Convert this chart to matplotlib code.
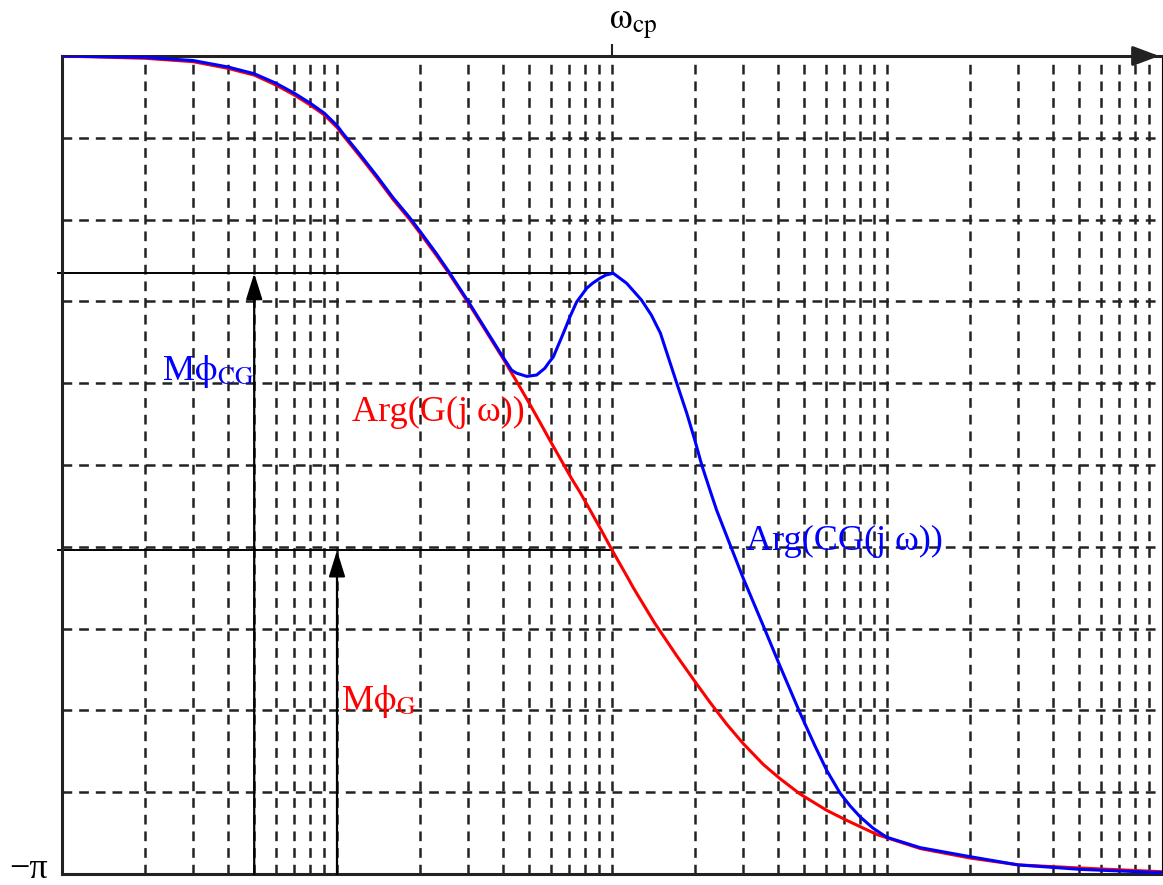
import numpy as np
import matplotlib
matplotlib.use('Agg')
import matplotlib.pyplot as plt
from matplotlib.ticker import FixedLocator, NullFormatter

plt.rcParams['font.family'] = ['Liberation Serif', 'DejaVu Serif']
plt.rcParams['mathtext.fontset'] = 'stix'
plt.rcParams['lines.scale_dashes'] = False

# phase of G(jw), degrees
omega_g = [0.01, 0.02, 0.03, 0.04, 0.05, 0.06, 0.07, 0.08, 0.09, 0.1, 0.105,
           0.121, 0.14, 0.16, 0.184, 0.2, 0.23, 0.254, 0.3, 0.4, 0.45, 0.5,
           0.547, 0.6, 0.657, 0.713, 0.765, 0.832, 0.904, 1.0, 1.146, 1.195,
           1.43, 1.72, 2.0, 2.27, 2.61, 3.0, 3.55, 4.08, 4.83, 6.04, 7.14,
           9.18, 13.2, 20.1, 30.1, 51.2, 100]
phase_g = [0, -0.5, -1.25, -2.7, -4.2, -6.4, -8.6, -10.8, -13.0, -15.7, -17.4,
           -22.0, -26.9, -31.6, -36.0, -38.9, -43.9, -47.6, -54.3, -66.4, -71.6, -76.4,
           -80.6, -85.0, -89.2, -93.0, -96.0, -99.9, -103.8, -108.7, -115.0, -117.0,
           -124.8, -132.0, -137.6, -142.2, -147.0, -151.3, -155.9, -159.0, -162.4, -166.0, -168.2,
           -171.3, -174.4, -176.5, -178.0, -178.7, -179.5]

# phase of C(jw)G(jw), degrees
omega_cg = [0.01, 0.02, 0.03, 0.04, 0.05, 0.06, 0.07, 0.08, 0.09, 0.1, 0.105,
            0.121, 0.14, 0.16, 0.184, 0.2, 0.23, 0.254, 0.3, 0.4, 0.431, 0.45,
            0.49, 0.532, 0.57, 0.587, 0.612, 0.638, 0.657, 0.68, 0.703, 0.744,
            0.776, 0.809, 0.85, 0.904, 0.95, 1.01, 1.13, 1.28, 1.39, 1.5,
            1.6, 1.72, 1.87, 2.0, 2.12, 2.27, 2.4, 2.69, 3.0, 3.55,
            4.08, 4.83, 5.47, 6.05, 6.75, 7.34, 7.98, 8.89, 9.97, 13.2,
            20.1, 30.0, 51.0, 100]
phase_cg = [0, -0.3, -1.0, -2.4, -3.9, -6.0, -8.2, -10.4, -12.6, -15.3, -17.0,
            -21.6, -26.5, -31.2, -35.6, -38.5, -43.5, -47.3, -54.0, -66.1, -69.1, -69.8,
            -70.5, -70.2, -68.7, -67.6, -66.2, -63.6, -61.8, -59.6, -57.4, -54.1,
            -52.6, -51.1, -50.0, -48.9, -48.2, -47.8, -50.0, -53.7, -57.0, -61.0,
            -66.2, -72.0, -78.6, -84.5, -90.0, -95.5, -99.9, -107.6, -114.9, -125.4,
            -134.2, -144.6, -151.8, -157.3, -162.2, -165.0, -167.4, -169.9, -171.9, -174.2,
            -176.2, -178.0, -179.0, -179.7]

w_cp = 1.0
pm_cg = -47.8
pm_g = -108.8
w_arrow_cg = 0.05
w_arrow_g = 0.1

fig = plt.figure(figsize=(11.63, 8.85), dpi=100)
ax = fig.add_axes([62 / 1163, 11 / 885, 1100 / 1163, 818 / 885])
ax.set_xscale('log')
ax.set_xlim(0.01, 100)
ax.set_ylim(-180, 0)

# grid
minors = [m * 10.0 ** e for e in range(-2, 2) for m in range(2, 10)] + [0.1, 10]
ax.xaxis.set_major_locator(FixedLocator([w_cp]))
ax.xaxis.set_minor_locator(FixedLocator(minors))
ax.xaxis.set_major_formatter(NullFormatter())
ax.xaxis.set_minor_formatter(NullFormatter())
ax.yaxis.set_major_locator(FixedLocator([-180]))
ax.yaxis.set_minor_locator(FixedLocator(np.arange(-162, 0, 18)))
ax.yaxis.set_major_formatter(NullFormatter())
ax.grid(True, which='both', color='#222222', lw=1.8, ls=(0, (7, 5)))
ax.tick_params(which='both', length=0)
ax.tick_params(axis='x', which='major', top=True, bottom=False, direction='out',
               length=9, width=1.5, color='#222222')
ax.set_axisbelow(True)

for s in ['left', 'bottom', 'top']:
    ax.spines[s].set_linewidth(2.2)
    ax.spines[s].set_color('#222222')
ax.spines['right'].set_linewidth(0.8)

# top axis arrow
ax.annotate('', xy=(1.0, 1.0), xytext=(0.98, 1.0), xycoords='axes fraction',
            arrowprops=dict(arrowstyle='-|>,head_length=0.8,head_width=0.3',
                            mutation_scale=20, color='#222222', lw=2.2),
            annotation_clip=False)

# margin lines and arrows
ax.plot([0.0097, w_cp], [pm_cg, pm_cg], color='black', lw=1.4, clip_on=False)
ax.plot([0.0097, w_cp], [pm_g, pm_g], color='black', lw=1.4, clip_on=False)
for w, p in [(w_arrow_cg, pm_cg), (w_arrow_g, pm_g)]:
    ax.annotate('', xy=(w, p), xytext=(w, -180),
                arrowprops=dict(arrowstyle='-|>,head_length=0.8,head_width=0.25',
                                mutation_scale=20, color='black', lw=1.6,
                                shrinkA=0, shrinkB=0))

ax.plot(omega_g, phase_g, color='#ff0000', lw=2.2, zorder=3)
ax.plot(omega_cg, phase_cg, color='#0000ff', lw=2.2, zorder=4)

fs = 26
ax.text(0.0231, -71.2, r'M$\mathrm{\phi}_{\mathrm{CG}}$', color='#0000ff', fontsize=fs,
        ha='left', va='baseline')
ax.text(0.113, -80.3, 'Arg(G(j ω))', color='#ff0000', fontsize=fs, ha='left', va='baseline')
ax.text(3.08, -108.7, 'Arg(CG(j ω))', color='#0000ff', fontsize=fs, ha='left', va='baseline')
ax.text(0.103, -144.0, r'M$\mathrm{\phi}_{\mathrm{G}}$', color='#ff0000', fontsize=fs,
        ha='left', va='baseline')
ax.annotate(r'$\mathrm{\omega}_{\mathrm{cp}}$', xy=(w_cp, 1.0), xycoords=('data', 'axes fraction'),
            xytext=(-2, 19), textcoords='offset points', fontsize=fs, ha='left',
            va='baseline', annotation_clip=False)
ax.annotate('−π', xy=(0, 0), xycoords='axes fraction', xytext=(-38, -3),
            textcoords='offset points', fontsize=fs, ha='left', va='baseline',
            annotation_clip=False)

fig.savefig('out.png', dpi=100)
